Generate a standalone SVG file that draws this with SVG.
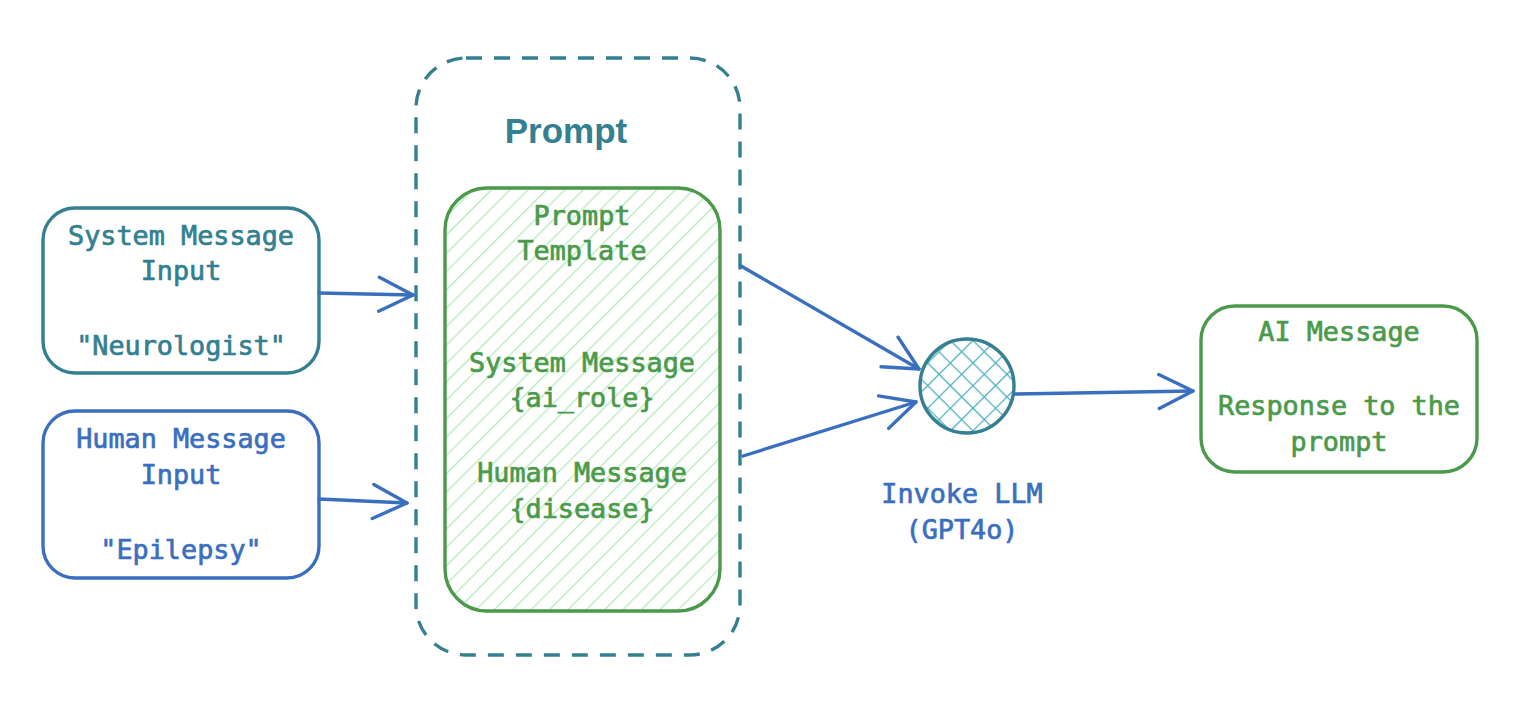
<svg xmlns="http://www.w3.org/2000/svg" width="1518" height="718" viewBox="0 0 1518 718">
<style>
.t{font-family:"DejaVu Sans Mono","Liberation Mono",monospace;font-size:26.8px;text-anchor:middle;stroke-width:0.7}
.teal{fill:#347f91;stroke:#347f91}.blue{fill:#3a6fc0;stroke:#3a6fc0}.green{fill:#4b9a4b;stroke:#4b9a4b}
.box{fill:#fff;stroke-width:3.4}
.conn{fill:none;stroke:#3a6fc0;stroke-width:3.4;stroke-linecap:round}
</style>
<defs>
<pattern id="hatch" patternUnits="userSpaceOnUse" width="13" height="13" patternTransform="rotate(45)">
<line x1="0" y1="0" x2="0" y2="13" stroke="#b2eab8" stroke-width="2.5"/>
</pattern>
<pattern id="cross" patternUnits="userSpaceOnUse" width="16" height="16" patternTransform="rotate(45)">
<line x1="0" y1="0" x2="0" y2="16" stroke="#4fb0bd" stroke-width="2.6"/>
<line x1="0" y1="0" x2="16" y2="0" stroke="#4fb0bd" stroke-width="2.6"/>
</pattern>
<marker id="arr" markerUnits="userSpaceOnUse" markerWidth="44" markerHeight="44" refX="36" refY="19" orient="auto">
<path d="M2,2 L36,19 L2,36" fill="none" stroke="#3a6fc0" stroke-width="3.4" stroke-linecap="round" stroke-linejoin="round"/>
</marker>
</defs>
<rect width="1518" height="718" fill="#fff"/>

<g id="prompt-container">
<rect x="416" y="58" width="324" height="597" rx="50" fill="none" stroke="#347f91" stroke-width="3.4" stroke-dasharray="16 12"/>
<text x="566" y="143" style="font-family:'Liberation Sans',Arial,sans-serif;font-size:35px;font-weight:bold;text-anchor:middle" fill="#347f91">Prompt</text>
</g>

<g id="prompt-template">
<rect x="445" y="188" width="275" height="423" rx="42" fill="#fff" stroke="none"/>
<rect x="445" y="188" width="275" height="423" rx="42" fill="url(#hatch)" stroke="#4b9a4b" stroke-width="3.4"/>
<text class="t green" x="582" y="225">Prompt</text>
<text class="t green" x="582" y="260">Template</text>
<text class="t green" x="582" y="372">System Message</text>
<text class="t green" x="582" y="407">{ai_role}</text>
<text class="t green" x="582" y="482">Human Message</text>
<text class="t green" x="582" y="518">{disease}</text>
</g>

<g id="system-input">
<rect class="box" x="43" y="208" width="276" height="165" rx="32" stroke="#347f91"/>
<text class="t teal" x="181" y="245">System Message</text>
<text class="t teal" x="181" y="280">Input</text>
<text class="t teal" x="181" y="355">"Neurologist"</text>
</g>

<g id="human-input">
<rect class="box" x="43" y="411" width="276" height="167" rx="32" stroke="#3a6fc0"/>
<text class="t blue" x="181" y="448">Human Message</text>
<text class="t blue" x="181" y="484">Input</text>
<text class="t blue" x="181" y="559">"Epilepsy"</text>
</g>

<g id="llm">
<circle cx="967" cy="386" r="47" fill="url(#cross)" stroke="#347f91" stroke-width="3.4"/>
<text class="t blue" x="962" y="503">Invoke LLM</text>
<text class="t blue" x="962" y="539">(GPT4o)</text>
</g>

<g id="ai-message">
<rect class="box" x="1201" y="306" width="276" height="166" rx="34" stroke="#4b9a4b"/>
<text class="t green" x="1339" y="341">AI Message</text>
<text class="t green" x="1339" y="415">Response to the</text>
<text class="t green" x="1339" y="451">prompt</text>
</g>

<g id="connectors">
<path class="conn" d="M319,293 L413,295" marker-end="url(#arr)"/>
<path class="conn" d="M319,499 L407,503" marker-end="url(#arr)"/>
<path class="conn" d="M741,266 L919,369" marker-end="url(#arr)"/>
<path class="conn" d="M743,456 L916,402" marker-end="url(#arr)"/>
<path class="conn" d="M1015,394 L1193,391" marker-end="url(#arr)"/>
</g>
</svg>
